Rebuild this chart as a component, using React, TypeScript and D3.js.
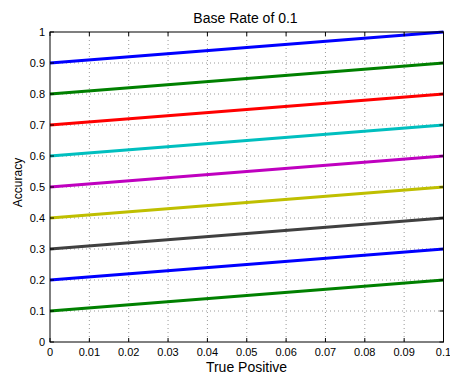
import React from "react";
import * as d3 from "d3";

const xTicks = [0, 0.01, 0.02, 0.03, 0.04, 0.05, 0.06, 0.07, 0.08, 0.09, 0.1];
const yTicks = [0, 0.1, 0.2, 0.3, 0.4, 0.5, 0.6, 0.7, 0.8, 0.9, 1];
const xTickLabels = ["0", "0.01", "0.02", "0.03", "0.04", "0.05", "0.06", "0.07", "0.08", "0.09", "0.1"];
const yTickLabels = ["0", "0.1", "0.2", "0.3", "0.4", "0.5", "0.6", "0.7", "0.8", "0.9", "1"];
const startValues = [0.9, 0.8, 0.7, 0.6, 0.5, 0.4, 0.3, 0.2, 0.1];
const endValues = [1.0, 0.9, 0.8, 0.7, 0.6, 0.5, 0.4, 0.3, 0.2];
const lineColors = ["#0000ff", "#008000", "#ff0000", "#00bfbf", "#bf00bf", "#bfbf00", "#404040", "#0000ff", "#008000"];

export default function App() {
  const W = 450, H = 373;
  const L = 50, R = 443.5, T = 32, B = 342;
  const x = d3.scaleLinear().domain([0, 0.1]).range([L, R]);
  const y = d3.scaleLinear().domain([0, 1]).range([B, T]);
  const line = d3.line<[number, number]>().x(d => x(d[0])).y(d => y(d[1]));
  const font = "Helvetica, Arial, 'Liberation Sans', sans-serif";
  return (
    <svg width={W} height={H} style={{ position: "absolute", left: 0, top: 0, background: "#fff" }} fontFamily={font}>
      <rect x={0} y={0} width={W} height={H} fill="#fff" />
      {/* grid */}
      {xTicks.slice(1, -1).map((t, i) => (
        <line key={"gx" + i} x1={x(t)} x2={x(t)} y1={T} y2={B} stroke="#999" strokeWidth={1} strokeDasharray="1,3" />
      ))}
      {yTicks.slice(1, -1).map((t, i) => (
        <line key={"gy" + i} x1={L} x2={R} y1={y(t)} y2={y(t)} stroke="#999" strokeWidth={1} strokeDasharray="1,3" />
      ))}
      {/* data lines */}
      {startValues.map((s, i) => (
        <path key={"l" + i} d={line([[0, s], [0.1, endValues[i]]]) || ""} stroke={lineColors[i]} strokeWidth={3} fill="none" />
      ))}
      {/* ticks */}
      {xTicks.map((t, i) => (
        <g key={"tx" + i}>
          <line x1={x(t)} x2={x(t)} y1={B} y2={B - 4} stroke="#000" />
          <line x1={x(t)} x2={x(t)} y1={T} y2={T + 4} stroke="#000" />
          <text x={x(t)} y={356} textAnchor="middle" fontSize={11}>{xTickLabels[i]}</text>
        </g>
      ))}
      {yTicks.map((t, i) => (
        <g key={"ty" + i}>
          <line x1={L} x2={L + 4} y1={y(t)} y2={y(t)} stroke="#000" />
          <line x1={R} x2={R - 4} y1={y(t)} y2={y(t)} stroke="#000" />
          <text x={L - 5} y={y(t) + 4} textAnchor="end" fontSize={11}>{yTickLabels[i]}</text>
        </g>
      ))}
      <rect x={L} y={T} width={R - L} height={B - T} fill="none" stroke="#000" strokeWidth={1} />
      <text x={245.5} y={23} textAnchor="middle" fontSize={14}>Base Rate of 0.1</text>
      <text x={246.5} y={371.5} textAnchor="middle" fontSize={14}>True Positive</text>
      <text transform={`translate(22,182.5) rotate(-90)`} textAnchor="middle" fontSize={12}>Accuracy</text>
    </svg>
  );
}
